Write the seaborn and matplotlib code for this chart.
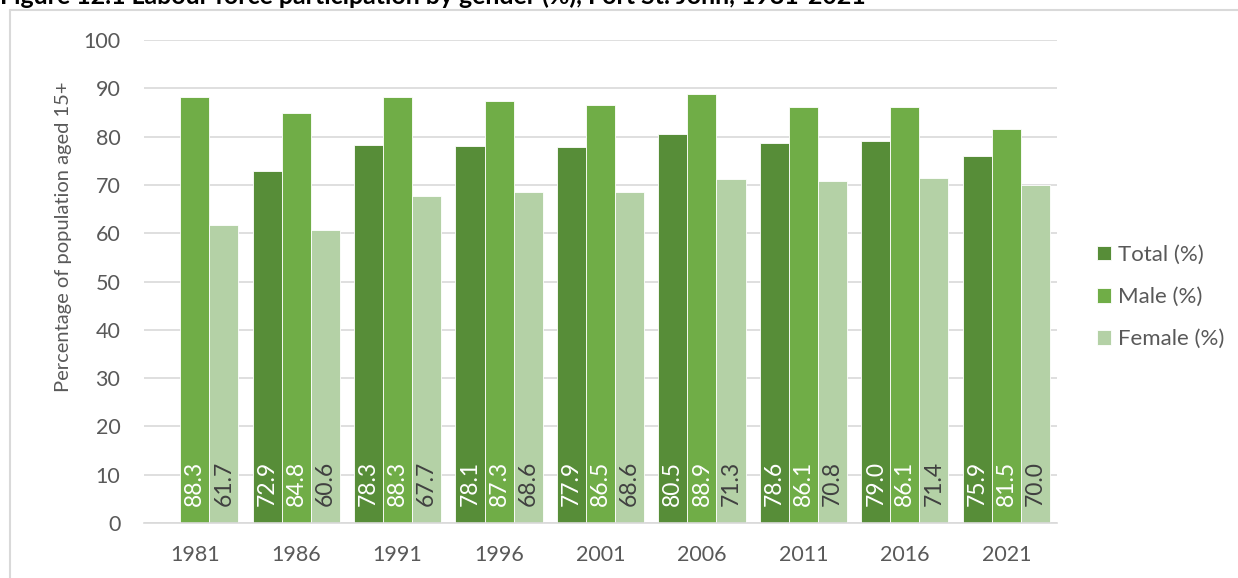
import numpy as np
import pandas as pd
import matplotlib
matplotlib.use("Agg")
import matplotlib.pyplot as plt
from matplotlib.lines import Line2D
import seaborn as sns

# Labour force participation rates (%), census years
years = ["1981", "1986", "1991", "1996", "2001", "2006", "2011", "2016", "2021"]
total = [np.nan, 72.9, 78.3, 78.1, 77.9, 80.5, 78.6, 79.0, 75.9]
male = [88.3, 84.8, 88.3, 87.3, 86.5, 88.9, 86.1, 86.1, 81.5]
female = [61.7, 60.6, 67.7, 68.6, 68.6, 71.3, 70.8, 71.4, 70.0]
series_names = ["Total (%)", "Male (%)", "Female (%)"]

title = "Figure 12.1 Labour force participation by gender (%), Fort St. John, 1981-2021"
y_label = "Percentage of population aged 15+"

colors = ["#578D38", "#70AD47", "#B4D1A6"]
label_colors = ["white", "white", "#404040"]

df = pd.DataFrame({
    "Year": years * 3,
    "Series": [s for s in series_names for _ in years],
    "Value": total + male + female,
})

sns.set_style("white")
plt.rcParams["font.family"] = ["Lato", "DejaVu Sans"]

W, H = 1238, 578
fig = plt.figure(figsize=(W / 100, H / 100), dpi=100)
ax = fig.add_axes([144 / W, 1 - 523 / H, (1057 - 144) / W, (523 - 40) / H])

sns.barplot(data=df, x="Year", y="Value", hue="Series", hue_order=series_names,
            order=years, palette=colors, saturation=1, width=0.86, gap=0,
            errorbar=None, edgecolor="white", linewidth=0.6, ax=ax)

# value labels written upward from the base of each bar
for container, tc in zip(ax.containers, label_colors):
    for bar in container:
        h = bar.get_height()
        if np.isnan(h) or h == 0:
            continue
        ax.text(bar.get_x() + bar.get_width() / 2, 3.6, f"{h:.1f}",
                rotation=90, ha="center", va="bottom", color=tc, fontsize=16.5)

ax.set_xlim(-0.5, len(years) - 0.5)
ax.set_ylim(0, 100)
ax.set_yticks(range(0, 101, 10))
ax.yaxis.grid(True, color="#D9D9D9", linewidth=1.2)
ax.set_axisbelow(True)
for side in ["top", "right", "left"]:
    ax.spines[side].set_visible(False)
ax.spines["bottom"].set_color("#D9D9D9")
ax.spines["bottom"].set_linewidth(1.2)
ax.tick_params(axis="both", length=0, labelsize=15.5, labelcolor="#595959")
ax.tick_params(axis="y", pad=17)
ax.tick_params(axis="x", pad=16)
ax.set_xlabel("")
ax.set_ylabel(y_label, fontsize=14.5, color="#595959")
ax.yaxis.set_label_coords(-0.079, 0.592)

ax.legend(loc="center left", bbox_to_anchor=(1097 / W, 1 - 297 / H),
          bbox_transform=fig.transFigure, frameon=False, fontsize=16,
          handlelength=0.65, handleheight=0.65, handletextpad=0.3,
          labelspacing=1.0, borderpad=0, borderaxespad=0, labelcolor="#595959")

# chart frame (top and left edges)
fig.add_artist(Line2D([10 / W, 1], [1 - 10 / H, 1 - 10 / H], color="#D9D9D9", lw=1.5))
fig.add_artist(Line2D([10 / W, 10 / W], [0, 1 - 10 / H], color="#D9D9D9", lw=1.5))

fig.text(0, 1 - 3.5 / H, title, fontsize=17.9, fontweight="bold", color="black",
         ha="left", va="baseline")

fig.savefig("out.png", dpi=100, facecolor="white")
